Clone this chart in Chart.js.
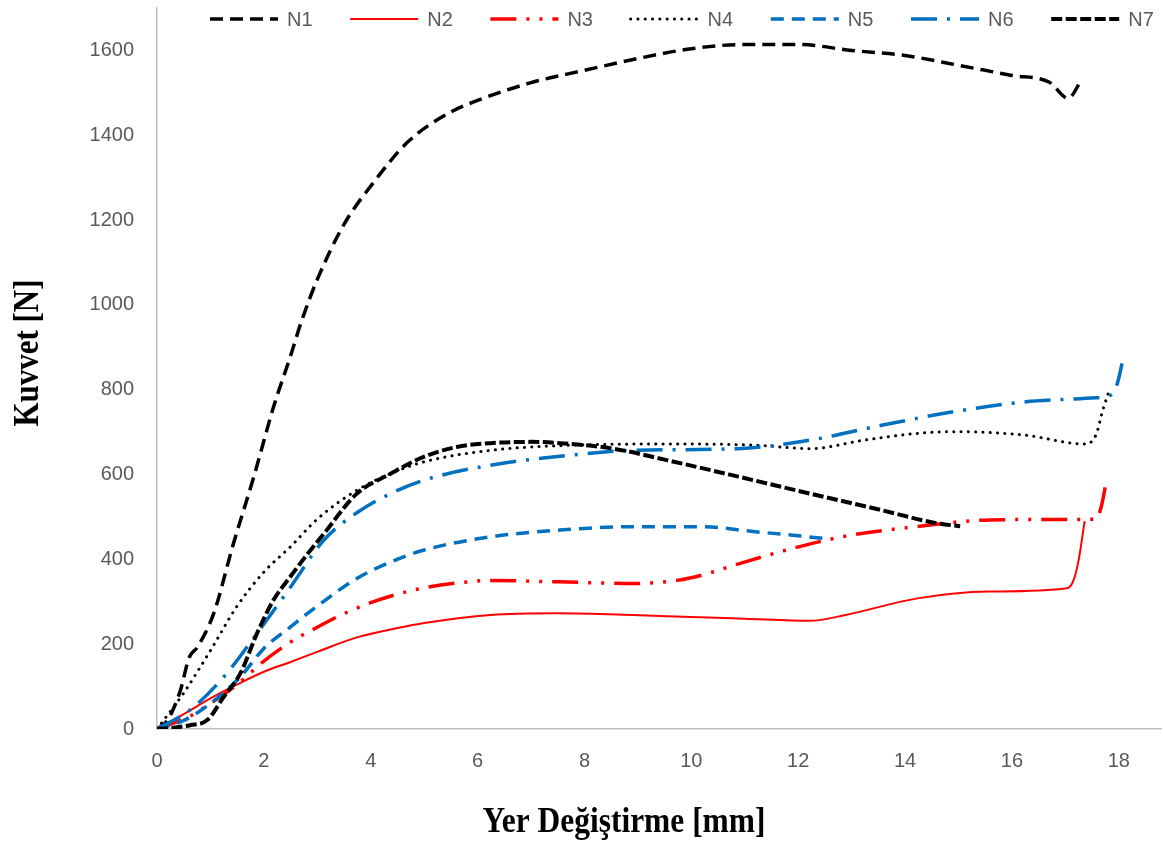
<!DOCTYPE html>
<html><head><meta charset="utf-8">
<script src="https://cdn.jsdelivr.net/npm/chart.js@4.4.1/dist/chart.umd.min.js"></script>
<style>html,body{margin:0;padding:0;background:#fff;}#wrap{width:1163px;height:842px;position:relative;}</style>
</head><body><div id="wrap"><canvas id="c"></canvas></div>
<script>
const seriesNames = ['N1','N2','N3','N4','N5','N6','N7'];
const xTickValues = [0,2,4,6,8,10,12,14,16,18];
const yTickValues = [0,200,400,600,800,1000,1200,1400,1600];
const xTitle = 'Yer Değiştirme [mm]';
const yTitle = 'Kuvvet [N]';

const n1x = [0,0.2,0.44,0.6,0.75,1.06,1.43,1.81,2.18,2.5,2.7,3,3.5,4,4.7,5.5,6,7,8,9,10,11,12,13,14,15,16,16.7,17.05,17.3];
const n1y = [0,21,92,168,192,272,437,594,759,880,960,1060,1190,1280,1385,1455,1482,1524,1553,1581,1604,1614,1614,1600,1588,1565,1541,1525,1487,1530];
const n2x = [0,0.5,1,1.5,2,2.5,3,3.74,4.5,5,6.24,7.5,8.9,10,11,12.22,12.89,14.23,15.56,17.03,17.15,17.25,17.36];
const n2y = [0,35,72,105,135,158,182,216,238,250,269,273,269,264,260,255,269,308,324,332,350,400,490];
const n3x = [0,0.6,1,1.5,2,2.5,3,3.5,4,4.5,5,5.6,6.24,7.5,8.9,9.76,10.2,10.9,11.9,12.9,14.2,15.6,16.9,17.57,17.67,17.77];
const n3y = [0,29,60,105,160,205,240,272,298,318,333,344,350,347,343,351,363,390,426,455,477,493,494,495,524,587];
const n4x = [0,0.5,1,1.5,2,2.5,3,3.74,4.37,5,6.24,7.54,9.54,11.21,12.22,13.23,14.23,14.9,16.23,17.36,17.57,17.7,17.8];
const n4y = [0,85,185,290,370,430,495,563,602,630,657,668,672,669,661,681,697,701,693,672,693,752,791];
const n5x = [0,0.5,1,1.56,2,2.5,3,3.74,4.36,5,6.24,7.54,8.88,10.2,11.2,11.9,12.5];
const n5y = [0,20,60,123,190,241,290,355,393,422,453,469,477,477,465,457,449];
const n6x = [0,0.62,1.25,1.87,2.5,3.12,3.74,4.37,5,6.24,7.54,8.88,10.88,12.22,13.56,14.9,16.23,17.57,17.84,17.97,18.06];
const n6y = [0,45,123,225,335,445,510,555,587,622,643,657,661,681,716,748,771,781,787,814,862];
const n7x = [0,0.3,0.62,0.94,1.25,1.56,1.87,2.18,2.5,2.8,3.12,3.74,4.37,5,5.61,6.24,7,7.54,8.54,9.54,10.88,12.22,13.56,14.56,15.03];
const n7y = [0,3,9,21,76,131,225,304,360,410,460,555,602,642,665,674,677,674,661,634,595,555,516,486,478];

const xs = [n1x,n2x,n3x,n4x,n5x,n6x,n7x];
const ys = [n1y,n2y,n3y,n4y,n5y,n6y,n7y];
const styles = [
  {c:'#000000', w:3.5, d:[13,7], cap:'butt'},
  {c:'#FF0000', w:2, d:[], cap:'butt'},
  {c:'#FF0000', w:3.5, d:[26,10,3,10,3,10], cap:'butt'},
  {c:'#000000', w:3, d:[0.1,7.2], cap:'round'},
  {c:'#0070C0', w:3.5, d:[13,8], cap:'butt'},
  {c:'#0070C0', w:3.5, d:[26,10,3,10], cap:'butt'},
  {c:'#000000', w:4, d:[11,3.5], cap:'butt'}
];

const datasets = seriesNames.map((name,i)=>({
  label: name,
  data: xs[i].map((x,k)=>({x:x, y:ys[i][k]})),
  borderColor: styles[i].c,
  backgroundColor: styles[i].c,
  borderWidth: styles[i].w,
  borderDash: styles[i].d,
  borderCapStyle: styles[i].cap,
  pointRadius: 0,
  fill: false,
  cubicInterpolationMode: 'monotone',
  order: 6 - i
}));

const tickFont = {family:'"Liberation Sans", Arial, sans-serif', size:20};

const extras = {
  id:'extras',
  afterDraw(chart){
    const ctx = chart.ctx;
    ctx.save();
    chart.data.datasets.forEach((ds,i)=>{
      const x0 = 210 + 140.2*i, y0 = 19;
      ctx.beginPath();
      ctx.strokeStyle = ds.borderColor;
      ctx.lineWidth = ds.borderWidth;
      ctx.setLineDash(ds.borderDash);
      ctx.lineCap = ds.borderCapStyle;
      ctx.moveTo(x0, y0); ctx.lineTo(x0+68, y0);
      ctx.stroke();
      ctx.setLineDash([]);
      ctx.fillStyle = '#595959';
      ctx.font = '20px "Liberation Sans", Arial, sans-serif';
      ctx.textAlign = 'left'; ctx.textBaseline = 'middle';
      ctx.fillText(ds.label, x0+77, y0+1);
    });
    ctx.restore();
    ctx.save();
    ctx.fillStyle = '#000';
    ctx.font = 'bold 35px "Liberation Serif", "Times New Roman", serif';
    ctx.textAlign = 'center'; ctx.textBaseline = 'alphabetic';
    let w = ctx.measureText(xTitle).width;
    ctx.translate(624, 832);
    ctx.scale(283/w, 1);
    ctx.fillText(xTitle, 0, 0);
    ctx.restore();
    ctx.save();
    ctx.fillStyle = '#000';
    ctx.font = 'bold 35px "Liberation Serif", "Times New Roman", serif';
    ctx.textAlign = 'center'; ctx.textBaseline = 'alphabetic';
    w = ctx.measureText(yTitle).width;
    ctx.translate(38, 353);
    ctx.rotate(-Math.PI/2);
    ctx.scale(147/w, 1);
    ctx.fillText(yTitle, 0, 0);
    ctx.restore();
  }
};

new Chart(document.getElementById('c'), {
  type: 'line',
  data: { datasets },
  options: {
    responsive: true,
    maintainAspectRatio: false,
    animation: false,
    devicePixelRatio: 1,
    layout: { autoPadding: false, padding: {top: 8, right: 1.4, left: 0, bottom: 0} },
    plugins: { legend: {display:false}, tooltip: {enabled:false} },
    scales: {
      x: {
        type: 'linear', min: 0, max: 18.8,
        afterBuildTicks: s => { s.ticks = xTickValues.map(v=>({value:v})); },
        afterFit: s => { s.height = 113; s.paddingLeft = 0; s.paddingRight = 0; },
        grid: {display:false, drawTicks:false},
        border: {display:true, color:'#BFBFBF', width:1.5},
        ticks: {font: tickFont, color:'#595959', padding: 20, maxRotation:0, autoSkip:false, callback: v => String(v)}
      },
      y: {
        type: 'linear', min: 0, max: 1700,
        afterBuildTicks: s => { s.ticks = yTickValues.map(v=>({value:v})); },
        afterFit: s => { s.width = 157; s.paddingTop = 0; s.paddingBottom = 0; },
        grid: {display:false, drawTicks:false},
        border: {display:true, color:'#BFBFBF', width:1.5},
        ticks: {font: tickFont, color:'#595959', padding: 23, autoSkip:false, callback: v => String(v)}
      }
    }
  },
  plugins: [extras]
});
</script>
</body></html>
